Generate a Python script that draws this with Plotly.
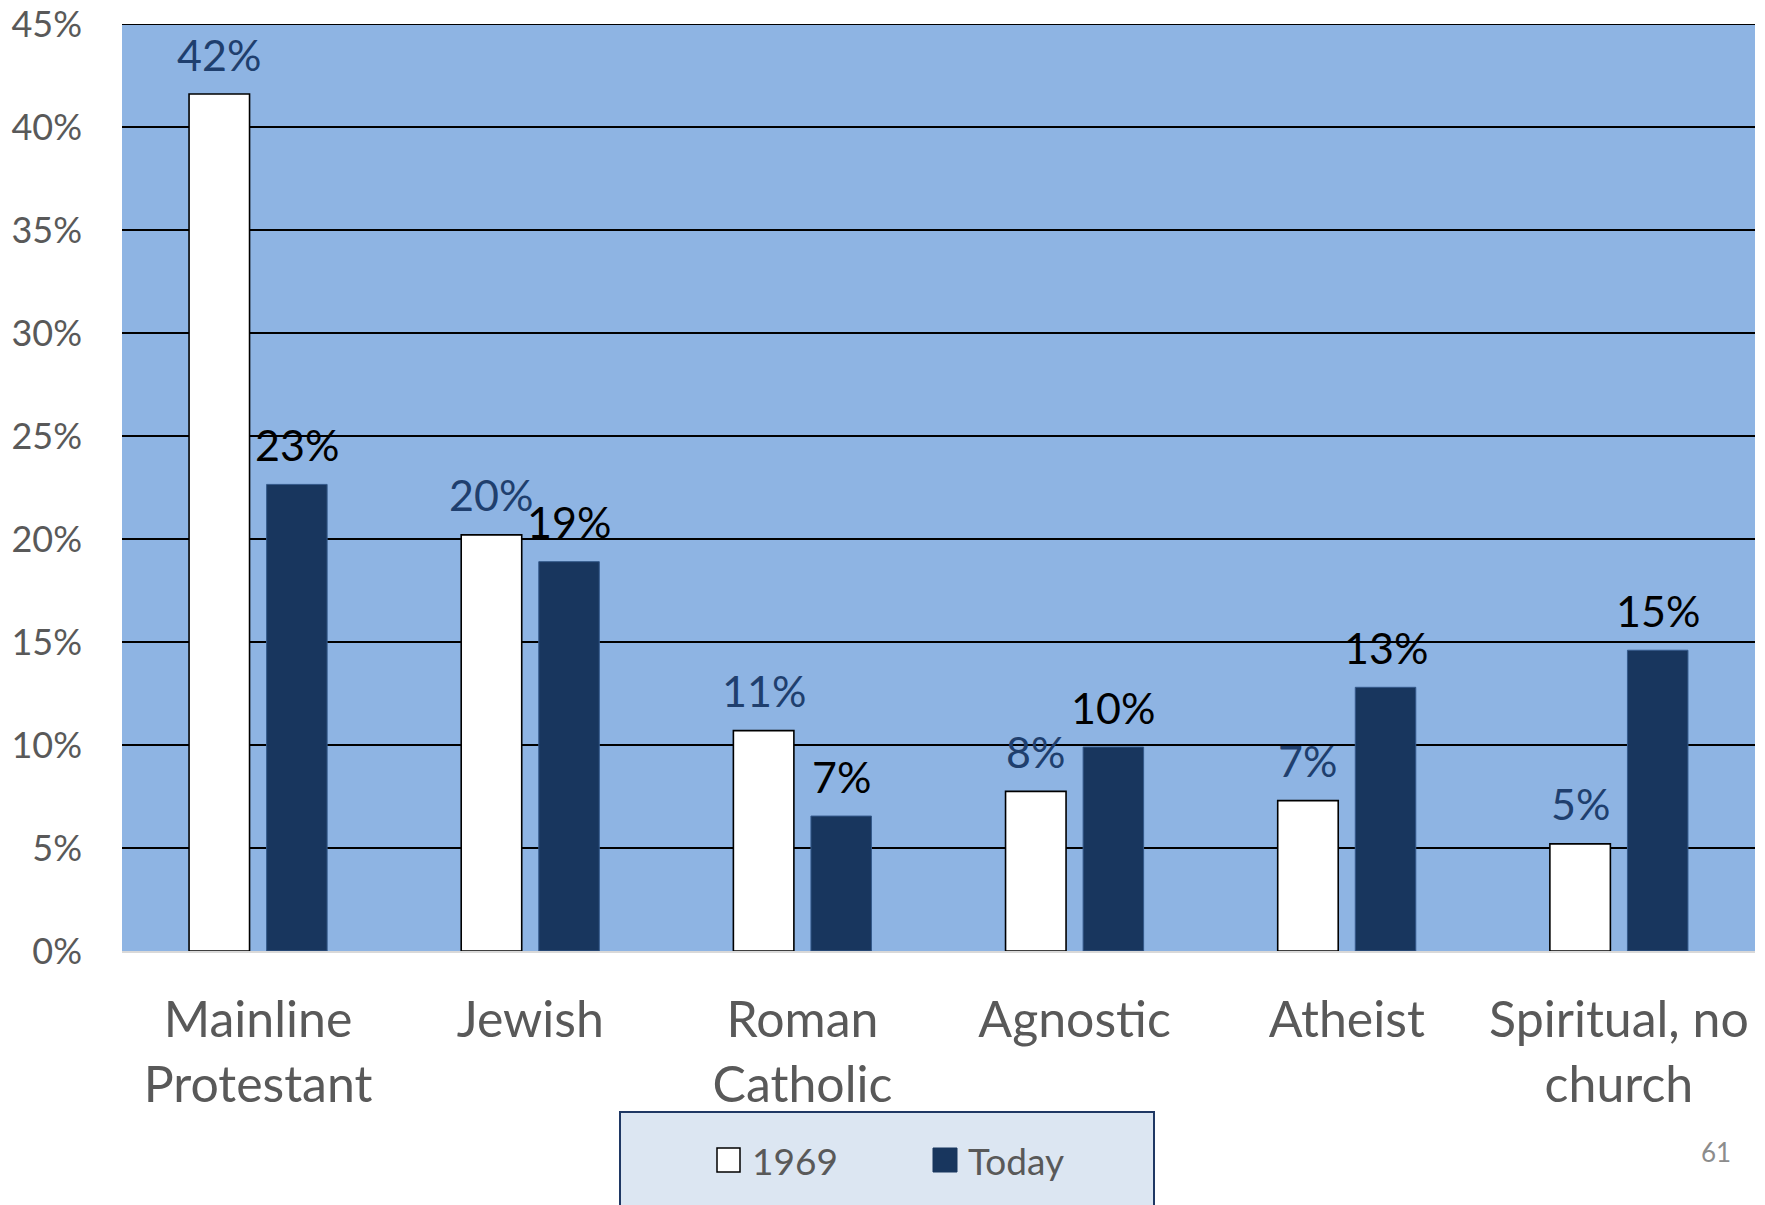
import plotly.graph_objects as go

categories = ["Mainline<br>Protestant", "Jewish", "Roman<br>Catholic", "Agnostic", "Atheist", "Spiritual, no<br>church"]
values_1969 = [41.6, 20.2, 10.7, 7.75, 7.3, 5.2]
values_today = [22.65, 18.9, 6.55, 9.9, 12.8, 14.6]
series_names = ["1969", "Today"]
y_ticks = [0, 5, 10, 15, 20, 25, 30, 35, 40, 45]
y_tick_labels = ["0%", "5%", "10%", "15%", "20%", "25%", "30%", "35%", "40%", "45%"]
page_number = "61"

FONT = "Lato"
NAVY = "#18365E"
GRAY = "#595959"
LABEL_1969 = "#1F3F6E"

# page offset (browser body margin)
OFF = 8
W, H = 1765 - OFF, 1205 - OFF
L, R, T, B = 114, 10, 16, 254
pw, ph = W - L - R, H - T - B
BARGAP = 0.43
slot_px = (1 - BARGAP) * pw / len(categories) / 2

fig = go.Figure()
fig.add_trace(go.Bar(
    x=categories, y=values_1969, name=series_names[0],
    marker=dict(color="white", line=dict(color="black", width=1.6)),
    showlegend=False, hoverinfo="x+y",
))
fig.add_trace(go.Bar(
    x=categories, y=values_today, name=series_names[1],
    marker=dict(color=NAVY, line=dict(color="#34598A", width=1)),
    showlegend=False, hoverinfo="x+y",
))

def px(x):
    return (x - OFF - L) / pw

def py(y):
    return (OFF + H - B - y) / ph

annotations = []
for series, vals, color, sign in ((0, values_1969, LABEL_1969, -1), (1, values_today, "black", 1)):
    for c, v in zip(categories, vals):
        annotations.append(dict(
            xref="x", yref="y", x=c, y=v, text=f"{v:.0f}%", showarrow=False,
            xanchor="center", yanchor="middle", xshift=sign * slot_px / 2, yshift=40,
            font=dict(family=FONT, size=43, color=color),
        ))

shapes = [
    # top gridline (plotly skips gridlines at the range ends)
    dict(type="line", xref="paper", yref="y", x0=0, x1=1, y0=y_ticks[-1], y1=y_ticks[-1],
         line=dict(color="black", width=2)),
    dict(type="rect", xref="paper", yref="paper", x0=px(620), x1=px(1154), y0=py(1240), y1=py(1112),
         fillcolor="#DCE6F2", line=dict(color="#1F3864", width=2), layer="below"),
    dict(type="rect", xref="paper", yref="paper", x0=px(717), x1=px(740), y0=py(1172), y1=py(1148),
         fillcolor="white", line=dict(color="black", width=1.5)),
    dict(type="rect", xref="paper", yref="paper", x0=px(933), x1=px(957), y0=py(1172), y1=py(1148),
         fillcolor=NAVY, line=dict(color=NAVY, width=1)),
]
annotations += [
    dict(xref="paper", yref="paper", x=px(750), y=py(1160), text=series_names[0], showarrow=False,
         xanchor="left", yanchor="middle", font=dict(family=FONT, size=37, color=GRAY)),
    dict(xref="paper", yref="paper", x=px(966), y=py(1160), text=series_names[1], showarrow=False,
         xanchor="left", yanchor="middle", font=dict(family=FONT, size=37, color=GRAY)),
    dict(xref="paper", yref="paper", x=px(1716), y=py(1152), text=page_number, showarrow=False,
         xanchor="center", yanchor="middle", font=dict(family=FONT, size=26, color="#8C8C8C")),
]

fig.update_layout(
    width=W, height=H,
    margin=dict(l=L, r=R, t=T, b=B, autoexpand=False),
    paper_bgcolor="white", plot_bgcolor="#8EB4E3",
    barmode="group", bargap=BARGAP, bargroupgap=0.22,
    font=dict(family=FONT, color=GRAY),
    showlegend=False,
    shapes=shapes, annotations=annotations,
    xaxis=dict(showgrid=False, showline=True, linecolor="#D9D9D9", linewidth=2, automargin=False,
               tickfont=dict(family=FONT, size=50, color=GRAY), ticklabelstandoff=24),
    yaxis=dict(range=[0, 45], tickmode="array", tickvals=y_ticks, ticktext=y_tick_labels,
               showgrid=True, automargin=False, ticklabeloverflow="allow",
               gridcolor="black", gridwidth=1.5, zeroline=False, showline=False,
               tickfont=dict(family=FONT, size=36, color=GRAY), ticklabelstandoff=39),
)

fig.write_html("out.html")
